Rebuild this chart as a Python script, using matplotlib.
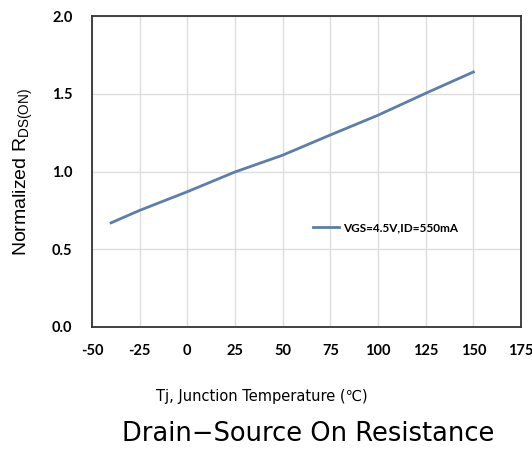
import matplotlib
matplotlib.use('Agg')
import matplotlib.pyplot as plt

plt.rcParams['axes.unicode_minus'] = False

# junction temperature (C) vs normalized RDS(on)
tj = [-40, -25, 0, 25, 50, 75, 100, 125, 150]
rds_norm = [0.67, 0.75, 0.87, 0.997, 1.105, 1.235, 1.362, 1.503, 1.64]
series_label = 'VGS=4.5V,ID=550mA'

x_ticks = [-50, -25, 0, 25, 50, 75, 100, 125, 150, 175]
y_ticks = [0.0, 0.5, 1.0, 1.5, 2.0]

fig = plt.figure(figsize=(5.32, 4.68), dpi=100)
ax = fig.add_axes([92 / 532, 1 - 327 / 468, (521 - 92) / 532, (327 - 16) / 468])

ax.plot(tj, rds_norm, color='#5b7fa8', linewidth=2, label=series_label)

ax.set_xlim(-50, 175)
ax.set_ylim(0, 2.0)
ax.set_xticks(x_ticks)
ax.set_yticks(y_ticks)
ax.set_xticklabels([str(v) for v in x_ticks])
ax.set_yticklabels([f'{v:.1f}' for v in y_ticks])
ax.grid(True, color='#dddddd', linewidth=1)
ax.set_axisbelow(True)
ax.tick_params(axis='x', length=0, pad=12)
ax.tick_params(axis='y', length=0, pad=14)
for lab in ax.get_xticklabels() + ax.get_yticklabels():
    lab.set_fontfamily('Lato')
    lab.set_fontweight('bold')
    lab.set_fontsize(10.5)
for sp in ax.spines.values():
    sp.set_color('#333333')
    sp.set_linewidth(1.3)

ax.set_ylabel('Normalized R$_{\\mathregular{DS(ON)}}$', fontsize=14,
              family='Liberation Sans', labelpad=12)

leg = ax.legend(loc='center left', bbox_to_anchor=(0.49, 0.32), frameon=False,
                handlelength=2.2, handletextpad=0.4,
                prop={'family': 'Lato', 'weight': 'bold', 'size': 8.5})

fig.text(262 / 532, 1 - 397 / 468, 'Tj, Junction Temperature (℃)',
         ha='center', va='center', fontsize=10.5,
         family=['DejaVu Sans', 'Noto Sans CJK JP'])
fig.text(308 / 532, 1 - 434 / 468, 'Drain−Source On Resistance',
         ha='center', va='center', fontsize=18.5,
         family=['DejaVu Sans', 'Noto Sans CJK JP'])

fig.savefig('out.png', dpi=100)
